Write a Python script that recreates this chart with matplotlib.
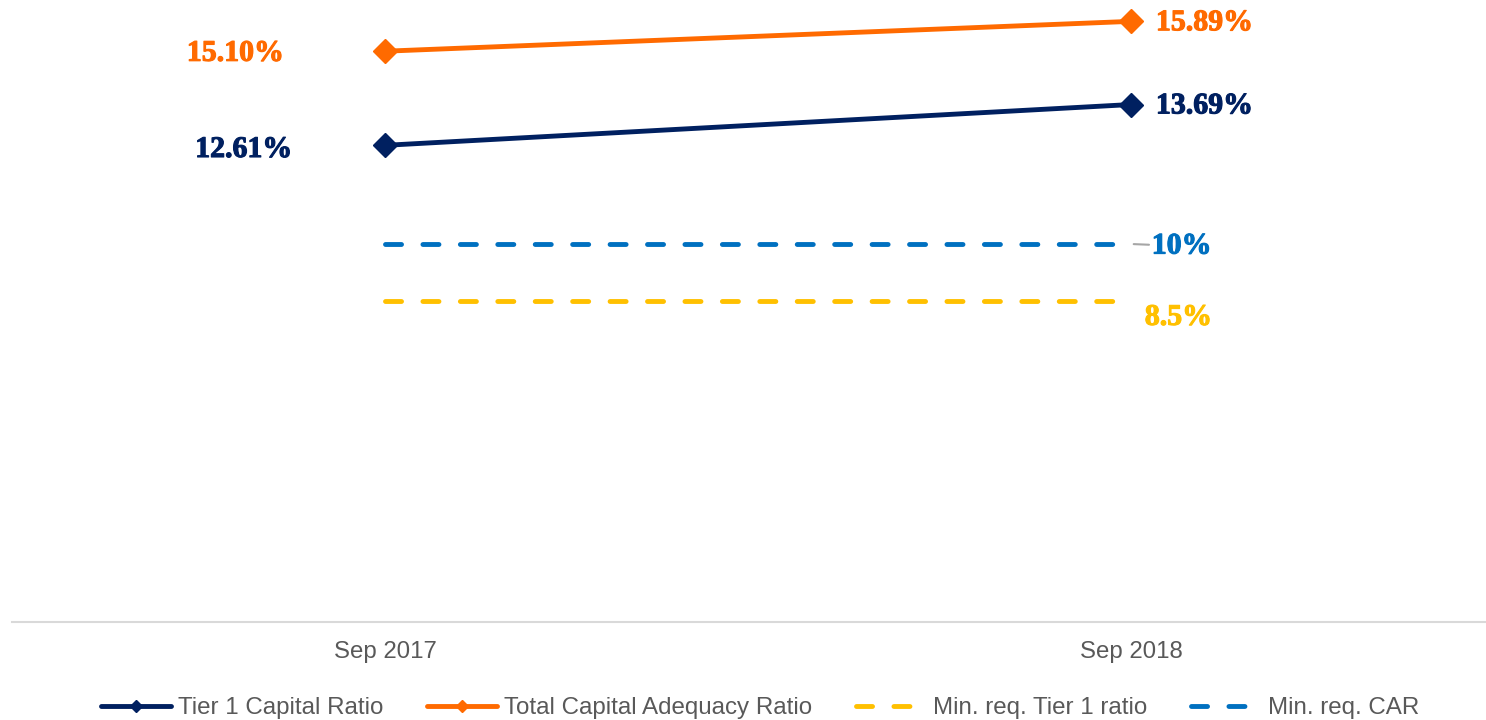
import matplotlib
matplotlib.use("Agg")
import matplotlib.pyplot as plt
import matplotlib.patheffects as pe
from matplotlib.lines import Line2D

# data
periods = ["Sep 2017", "Sep 2018"]
tier1 = [12.61, 13.69]
total_car = [15.10, 15.89]
min_tier1 = [8.5, 8.5]
min_car = [10, 10]

navy = "#002060"
orange = "#FF6A00"
yellow = "#FFC000"
blue = "#0070C0"
grey_txt = "#595959"

fig = plt.figure(figsize=(14.86, 7.2), dpi=100)
ax = fig.add_axes([12 / 1486, 98 / 720, 1 - 12 / 1486, 1 - 98 / 720])

x = list(range(len(periods)))
dash = (3.3, 4.4)

ax.plot(x, min_car, color=blue, lw=3.5, ls=(0, dash), dash_capstyle="round")
ax.plot(x, min_tier1, color=yellow, lw=3.5, ls=(0, dash), dash_capstyle="round")
ax.plot(x, tier1, color=navy, lw=3.5, marker="D", markersize=12.5,
        solid_capstyle="round")
ax.plot(x, total_car, color=orange, lw=3.5, marker="D", markersize=12.5,
        solid_capstyle="round")


def value_label(text, xy, offset, color, ha, **kw):
    # serif bold look, thickened with a thin stroke of the same colour
    t = ax.annotate(text, xy, xytext=offset, textcoords="offset points",
                    ha=ha, va="center", color=color, family="Liberation Serif",
                    fontweight="bold", fontsize=21.5, **kw)
    t.set_path_effects([pe.withStroke(linewidth=0.8, foreground=color)])
    return t


# left-side labels
value_label(f"{total_car[0]:.2f}%", (x[0], total_car[0]), (-73, -1.5),
            orange, "right")
value_label(f"{tier1[0]:.2f}%", (x[0], tier1[0]), (-67, -3), navy, "right")
# right-side labels
value_label(f"{total_car[1]:.2f}%", (x[1], total_car[1]), (18, -1),
            orange, "left")
value_label(f"{tier1[1]:.2f}%", (x[1], tier1[1]), (18, -1), navy, "left")
value_label(f"{min_car[1]:g}%", (x[1], min_car[1]), (15, -1.5), blue, "left",
            arrowprops=dict(arrowstyle="-", color="#A6A6A6", lw=1.5,
                            shrinkA=0, shrinkB=2))
value_label(f"{min_tier1[1]:g}%", (x[1], min_tier1[1]), (10, -12),
            yellow, "left")

ax.set_xlim(-0.5, 1.476)
ax.set_ylim(0, 16.455)
ax.set_xticks(x)
ax.set_xticklabels(periods, fontsize=17.3, color=grey_txt,
                   family="Liberation Sans")
ax.tick_params(axis="x", length=0, pad=14)
ax.set_yticks([])
for s in ["top", "left", "right"]:
    ax.spines[s].set_visible(False)
ax.spines["bottom"].set_color("#D9D9D9")
ax.spines["bottom"].set_linewidth(1.5)

handles = [
    Line2D([], [], color=navy, lw=3.5, marker="D", markersize=6,
           solid_capstyle="round"),
    Line2D([], [], color=orange, lw=3.5, marker="D", markersize=6,
           solid_capstyle="round"),
    Line2D([], [], color=yellow, lw=3.5, ls=(0, (3.3, 4.4)),
           dash_capstyle="round"),
    Line2D([], [], color=blue, lw=3.5, ls=(0, (3.3, 4.4)),
           dash_capstyle="round"),
]
names = ["Tier 1 Capital Ratio", "Total Capital Adequacy Ratio",
         "Min. req. Tier 1 ratio", "Min. req. CAR"]
leg = fig.legend(handles, names, loc="center", ncol=4,
                 bbox_to_anchor=(760 / 1486, 1 - 708 / 720), frameon=False,
                 prop={"family": "Liberation Sans", "size": 17.4},
                 handlelength=2.9, handletextpad=0.3, columnspacing=1.8)
for t in leg.get_texts():
    t.set_color(grey_txt)

fig.savefig("out.png", dpi=100)
